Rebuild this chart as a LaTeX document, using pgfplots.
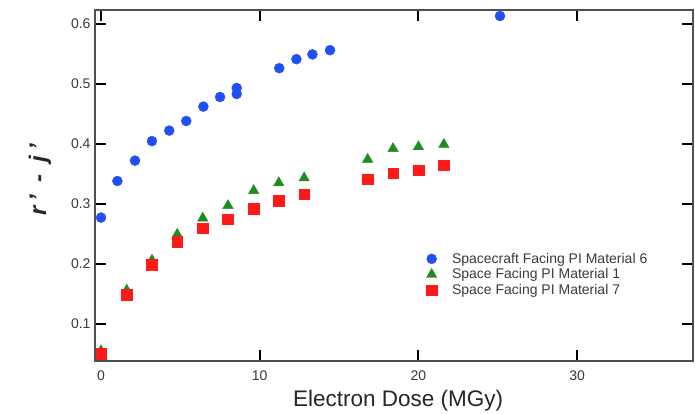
\documentclass[border=0pt]{standalone}
\usepackage{pgfplots}
\pgfplotsset{compat=1.18}
\usepackage{fontspec}
\setmainfont{Liberation Sans}
\definecolor{axgray}{HTML}{505050}
\definecolor{txtgray}{HTML}{3A3A3A}
\definecolor{myblue}{HTML}{1F4FF5}
\definecolor{mygreen}{HTML}{1E8C1E}
\definecolor{myred}{HTML}{FF1A1A}
\begin{document}
\begin{tikzpicture}
\begin{axis}[
  name=main, at={(0pt,0pt)}, anchor=south west,
  scale only axis, width=598pt, height=351pt,
  xmin=-0.38, xmax=37.3, ymin=0.038, ymax=0.623,
  xtick={0,10,20,30}, ytick={0.1,0.2,0.3,0.4,0.5,0.6},
  /pgf/number format/assume math mode=true,
  yticklabel style={/pgf/number format/fixed,/pgf/number format/precision=1,/pgf/number format/fixed zerofill},
  tick align=inside, major tick length=11pt,
  axis line style={draw=axgray, line width=1.4pt},
  xtick style={color=black, line width=2pt},
  ytick style={color=black, line width=2pt},
  tick label style={font=\fontsize{14}{16}\selectfont, text=txtgray},
  xticklabel style={yshift=-6pt},
  yticklabel style={xshift=-1pt},
  xlabel={Electron Dose (MGy)},
  xlabel style={at={(axis description cs:0.507,0)}, anchor=center, yshift=-40pt, font=\fontsize{22.5}{24}\selectfont, text=black!85},
  ylabel={\textit{r\hspace{5pt}'\hspace{12pt}-\hspace{12pt}j\hspace{5pt}'}},
  ylabel style={at={(axis description cs:-0.092,0.517)}, anchor=center, font=\bfseries\fontsize{24}{26}\selectfont, text=black!85},
  axis on top,
  legend style={draw=none, fill=none, at={(axis cs:20.3,0.2233)}, anchor=north west,
    font=\fontsize{14}{16}\selectfont, text=txtgray, row sep=2pt,
    nodes={inner xsep=5pt, inner ysep=1pt},
    /tikz/every odd column/.append style={column sep=10pt}},
  legend cell align=left,
]
\addplot[only marks, mark=*, mark size=5pt, color=myblue] coordinates {
 (0,0.277) (1.03,0.338) (2.14,0.372) (3.21,0.4045) (4.30,0.422) (5.37,0.438)
 (6.45,0.462) (7.50,0.478) (8.55,0.493) (8.55,0.483) (11.23,0.526) (12.31,0.541)
 (13.32,0.549) (14.43,0.556) (25.14,0.613)
};
\addlegendentry{Spacecraft Facing PI Material 6}
\addplot[only marks, mark=triangle*, mark size=6pt, color=mygreen] coordinates {
 (0,0.055) (1.62,0.156) (3.21,0.206) (4.80,0.249) (6.41,0.276) (8.0,0.297)
 (9.62,0.322) (11.2,0.335) (12.8,0.343) (16.8,0.374) (18.4,0.392) (20.0,0.395)
 (21.6,0.399) (37.45,0.453)
};
\addlegendentry{Space Facing PI Material 1}
\addplot[only marks, mark=square*, mark size=5.3pt, color=myred] coordinates {
 (0,0.05) (1.62,0.148) (3.21,0.198) (4.80,0.237) (6.41,0.259) (8.0,0.274)
 (9.62,0.292) (11.2,0.305) (12.8,0.316) (16.8,0.341) (18.4,0.351) (20.0,0.356)
 (21.6,0.364) (37.45,0.427)
};
\addlegendentry{Space Facing PI Material 7}
\end{axis}
\pgfresetboundingbox
\path (-95pt,-53pt) rectangle (600pt,361pt);
\end{tikzpicture}
\end{document}
